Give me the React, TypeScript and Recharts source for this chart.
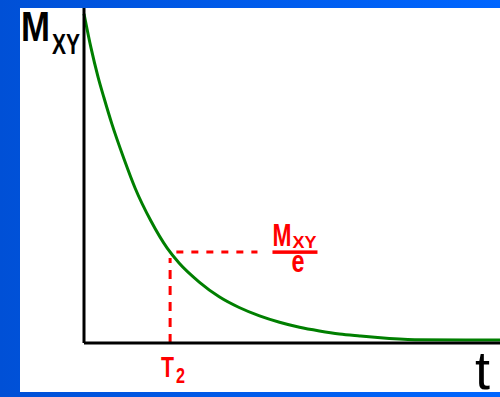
import React from "react";
import { LineChart, Line, XAxis, YAxis, ReferenceLine, Label } from "recharts";

// Transverse magnetization decay, M_XY(t), in percent of the initial value
const TIME = [0, 1.7, 3.4, 4.8, 6.7, 9.6, 12.3, 16.1, 20.0, 22.9, 27.7, 32.5, 37.3, 42.2, 47.0, 51.8, 56.6, 61.4, 66.3, 69.9, 79.5, 100];
const MXY = [98.3, 88.0, 79.3, 73.2, 65.4, 55.0, 46.2, 36.4, 28.3, 23.8, 18.2, 13.8, 10.6, 8.1, 6.2, 4.7, 3.6, 2.7, 2.1, 1.7, 1.0, 0.9];

// T2 marker: time constant and the M_XY / e level
const T2 = 20.7;
const MXY_OVER_E = 27.2;
const T2_LINE_TOP = 25.4;
const LEVEL_LINE_START = 22.2;
const LEVEL_LINE_END = 41.7;

const AXIS_TITLE_Y = "M";
const AXIS_TITLE_Y_SUB = "XY";
const AXIS_TITLE_X = "t";
const T2_MAIN = "T";
const T2_SUB = "2";
const LEVEL_NUM = "M";
const LEVEL_NUM_SUB = "XY";
const LEVEL_DEN = "e";

const data = TIME.map((t, i) => ({ t, m: MXY[i] }));

const FONT = "'Liberation Sans', Arial, sans-serif";
const RED = "#ff0000";
const GREEN = "#007f00";

type VB = { x: number; y: number; width: number; height: number };

const YTitle = (props: any) => {
  const vb: VB = props.viewBox;
  return (
    <g fontFamily={FONT} fill="#000" fontWeight="bold">
      <text x={vb.x - 3} y={vb.y + 33} fontSize={43} textLength={29} lengthAdjust="spacingAndGlyphs">
        {AXIS_TITLE_Y}
      </text>
      <text x={vb.x + 28} y={vb.y + 46} fontSize={29} textLength={28} lengthAdjust="spacingAndGlyphs">
        {AXIS_TITLE_Y_SUB}
      </text>
    </g>
  );
};

const XTitle = (props: any) => {
  const vb: VB = props.viewBox;
  return (
    <text x={vb.x + vb.width - 25} y={vb.y + 46} fontFamily={FONT} fontSize={53} fill="#000" textLength={15} lengthAdjust="spacingAndGlyphs">
      {AXIS_TITLE_X}
    </text>
  );
};

const T2Label = (props: any) => {
  const vb: VB = props.viewBox;
  const bottom = vb.y + vb.height;
  return (
    <g fontFamily={FONT} fill={RED} fontWeight="bold">
      <text x={vb.x - 9} y={bottom + 34} fontSize={30} textLength={13} lengthAdjust="spacingAndGlyphs">
        {T2_MAIN}
      </text>
      <text x={vb.x + 6} y={bottom + 40} fontSize={22} textLength={9} lengthAdjust="spacingAndGlyphs">
        {T2_SUB}
      </text>
    </g>
  );
};

const LevelLabel = (props: any) => {
  const vb: VB = props.viewBox;
  const x0 = vb.x + vb.width + 15;
  const yb = vb.y;
  return (
    <g fontFamily={FONT} fill={RED} fontWeight="bold">
      <text x={x0} y={yb - 6} fontSize={31} textLength={19} lengthAdjust="spacingAndGlyphs">
        {LEVEL_NUM}
      </text>
      <text x={x0 + 20} y={yb - 4} fontSize={17} textLength={24} lengthAdjust="spacingAndGlyphs">
        {LEVEL_NUM_SUB}
      </text>
      <rect x={x0} y={yb - 1.5} width={45} height={3.5} />
      <text x={x0 + 19} y={yb + 20} fontSize={31} textLength={13} lengthAdjust="spacingAndGlyphs">
        {LEVEL_DEN}
      </text>
    </g>
  );
};

export default function App() {
  return (
    <div
      style={{
        position: "absolute",
        left: 0,
        top: 0,
        width: 500,
        height: 397,
        background: "linear-gradient(to right, #0050d6, #0066ff)",
      }}
    >
      <div style={{ position: "absolute", left: 20, top: 8, width: 480, height: 384, background: "#fff" }} />
      <div style={{ position: "absolute", left: 0, top: 0 }}>
        <LineChart width={500} height={397} data={data} margin={{ top: 8, right: 0, bottom: 24, left: 24 }}>
          <XAxis
            type="number"
            dataKey="t"
            domain={[0, 100]}
            tick={false}
            tickLine={false}
            height={30}
            axisLine={{ stroke: "#000", strokeWidth: 3 }}
          >
            <Label content={<XTitle />} />
          </XAxis>
          <YAxis
            type="number"
            domain={[0, 100]}
            tick={false}
            tickLine={false}
            width={60}
            axisLine={{ stroke: "#000", strokeWidth: 3 }}
          >
            <Label content={<YTitle />} />
          </YAxis>
          <ReferenceLine
            segment={[{ x: T2, y: 0 }, { x: T2, y: T2_LINE_TOP }]}
            stroke={RED}
            strokeWidth={3}
            strokeDasharray="9 7"
          >
            <Label content={<T2Label />} />
          </ReferenceLine>
          <ReferenceLine
            segment={[{ x: LEVEL_LINE_START, y: MXY_OVER_E }, { x: LEVEL_LINE_END, y: MXY_OVER_E }]}
            stroke={RED}
            strokeWidth={3}
            strokeDasharray="7 8"
          >
            <Label content={<LevelLabel />} />
          </ReferenceLine>
          <Line
            type="monotone"
            dataKey="m"
            stroke={GREEN}
            strokeWidth={3}
            dot={false}
            isAnimationActive={false}
          />
        </LineChart>
      </div>
    </div>
  );
}
